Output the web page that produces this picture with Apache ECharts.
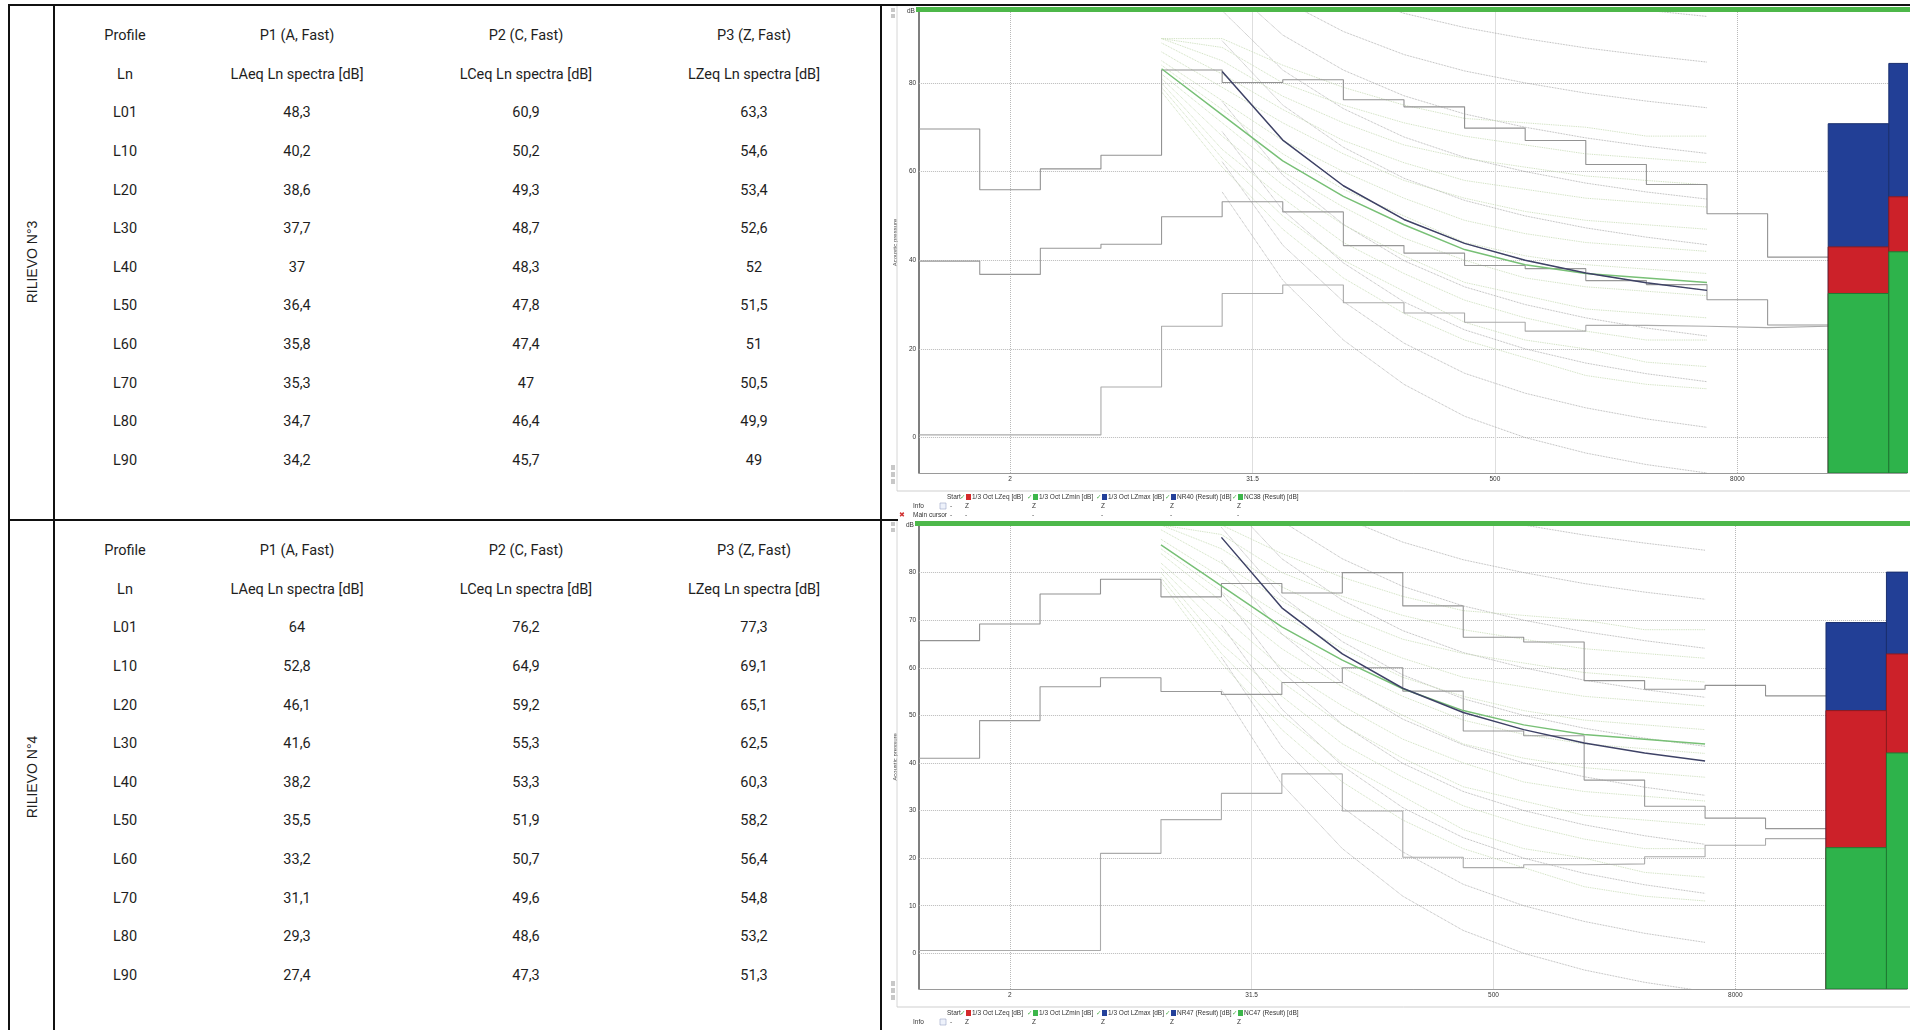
<!DOCTYPE html>
<html>
<head>
<meta charset="utf-8">
<script src="https://cdn.jsdelivr.net/npm/echarts@6/dist/echarts.min.js"></script>
<style>
  html, body { margin: 0; padding: 0; background: #fff; }
  #page { position: relative; width: 1910px; height: 1030px; overflow: hidden; color: #1e1e1e; }
  .cell { position: absolute; transform: translate(-50%, -50%); white-space: nowrap;
          font-family: Roboto, sans-serif; font-size: 14.5px; }
  .rot { position: absolute; transform: translate(-50%, -50%) rotate(-90deg); white-space: nowrap;
         font-family: "Liberation Sans", sans-serif; font-size: 14px; }
  .rule { position: absolute; background: #111; z-index: 3; }
  #spectra { position: absolute; left: 884px; top: 0; width: 1026px; height: 1030px; z-index: 1; }
</style>
</head>
<body>
<div id="page">
  <div id="table"></div>
  <div id="spectra"></div>
</div>
<script>
// ---- table data ----
const profiles = ['P1 (A, Fast)', 'P2 (C, Fast)', 'P3 (Z, Fast)'];
const spectraHeads = ['LAeq Ln spectra [dB]', 'LCeq Ln spectra [dB]', 'LZeq Ln spectra [dB]'];
const lnLabels = ['L01', 'L10', 'L20', 'L30', 'L40', 'L50', 'L60', 'L70', 'L80', 'L90'];
const r3A = [48.3, 40.2, 38.6, 37.7, 37, 36.4, 35.8, 35.3, 34.7, 34.2];
const r3C = [60.9, 50.2, 49.3, 48.7, 48.3, 47.8, 47.4, 47, 46.4, 45.7];
const r3Z = [63.3, 54.6, 53.4, 52.6, 52, 51.5, 51, 50.5, 49.9, 49];
const r4A = [64, 52.8, 46.1, 41.6, 38.2, 35.5, 33.2, 31.1, 29.3, 27.4];
const r4C = [76.2, 64.9, 59.2, 55.3, 53.3, 51.9, 50.7, 49.6, 48.6, 47.3];
const r4Z = [77.3, 69.1, 65.1, 62.5, 60.3, 58.2, 56.4, 54.8, 53.2, 51.3];
const sectionLabels = ['RILIEVO N°3', 'RILIEVO N°4'];

// ---- spectra data (octave bands, dB) ----
const bandsHz = ['1', '2', '4', '8', '16', '31.5', '63', '125', '250', '500', '1000', '2000', '4000', '8000', '16000'];
const xTickBands = ['2', '31.5', '500', '8000'];
const overallNames = ['A', 'Z'];

const s3Max = [69.6, 55.9, 60.6, 63.7, 82.9, 80.1, 80.7, 76.2, 74.6, 69.8, 67.0, 61.6, 57.1, 50.5, 40.7];
const s3Eq  = [39.8, 36.8, 42.7, 43.6, 49.8, 53.2, 50.9, 43.3, 41.6, 38.8, 38.1, 35.4, 34.5, 31.1, 25.4];
const s3Min = [0.6, 0.6, 0.6, 11.4, 25.1, 32.5, 34.4, 30.4, 28.1, 26.0, 24.0, 25.3, 25.1, 24.8, 25.1];
const t3Max = [70.8, 84.4];
const t3Eq  = [43.0, 54.3];
const t3Min = [32.5, 41.9];
const nr40 = [82.6, 67.1, 56.8, 49.2, 43.8, 40, 37.1, 34.9, 33.2];
const nc38 = [83.2, 72.8, 62.4, 54.4, 48, 42.4, 39, 37, 36, 35];

const s4Max = [65.7, 69.2, 75.5, 78.6, 74.9, 77.7, 75.7, 80.0, 73.0, 66.4, 65.4, 57.3, 55.5, 56.3, 54.1];
const s4Eq  = [41.0, 48.9, 56.0, 57.9, 55.0, 54.4, 56.9, 60.0, 55.1, 46.7, 45.7, 36.4, 30.9, 28.4, 26.2];
const s4Min = [0.6, 0.6, 0.6, 21.0, 28.1, 33.6, 37.7, 29.9, 20.2, 18.0, 18.6, 18.8, 20.3, 22.7, 24.1];
const t4Max = [69.5, 80.1];
const t4Eq  = [51.0, 62.9];
const t4Min = [22.2, 42.1];
const nr47 = [87.4, 72.6, 62.9, 55.7, 50.6, 47, 44.2, 42.1, 40.4];
const nc47 = [85.8, 77.2, 68.6, 61.6, 55.6, 51, 48, 46, 45, 44];

// background reference families (NR 31.5..8k, NC 16..8k)
const nrCurves = [
  [55.4, 35.5, 22.0, 12.0, 4.8, 0, -3.5, -6.1, -8.0],
  [62.2, 43.4, 30.7, 21.3, 14.5, 10, 6.7, 4.2, 2.3],
  [69.0, 51.3, 39.4, 30.6, 24.3, 20, 16.8, 14.4, 12.6],
  [75.8, 59.2, 48.1, 39.9, 34.0, 30, 27.0, 24.7, 22.9],
  [82.6, 67.1, 56.8, 49.2, 43.8, 40, 37.1, 34.9, 33.2],
  [89.5, 75.0, 65.5, 58.5, 53.5, 50, 47.3, 45.2, 43.5],
  [96.3, 82.9, 74.2, 67.8, 63.2, 60, 57.4, 55.4, 53.8],
  [103.1, 90.8, 82.9, 77.1, 73.0, 70, 67.6, 65.7, 64.1],
  [109.9, 98.7, 91.6, 86.4, 82.7, 80, 77.7, 75.9, 74.4],
  [116.7, 106.6, 100.3, 95.7, 92.5, 90, 87.9, 86.2, 84.7],
  [123.5, 114.5, 109.0, 105.0, 102.2, 100, 98.0, 96.4, 95.0]
];
const ncCurves = [
  [78, 61, 47, 36, 28, 22, 18, 14, 12, 11],
  [79, 63, 50, 40, 33, 26, 22, 20, 17, 16],
  [80, 65, 54, 44, 37, 31, 27, 24, 22, 22],
  [81, 68, 57, 48, 41, 35, 32, 29, 28, 27],
  [82, 71, 60, 52, 45, 40, 36, 34, 33, 32],
  [84, 74, 64, 56, 50, 44, 41, 39, 38, 37],
  [85, 76, 67, 60, 54, 49, 46, 44, 43, 42],
  [87, 79, 71, 64, 58, 54, 51, 49, 48, 47],
  [89, 82, 74, 67, 62, 58, 56, 54, 53, 52],
  [90, 85, 77, 71, 66, 63, 61, 59, 58, 57],
  [90, 88, 80, 75, 71, 68, 66, 64, 63, 62],
  [90, 90, 84, 79, 75, 72, 71, 70, 68, 68]
];
const legend3 = ['1/3 Oct LZeq [dB]', '1/3 Oct LZmin [dB]', '1/3 Oct LZmax [dB]', 'NR40 (Result) [dB]', 'NC38 (Result) [dB]'];
const legend4 = ['1/3 Oct LZeq [dB]', '1/3 Oct LZmin [dB]', '1/3 Oct LZmax [dB]', 'NR47 (Result) [dB]', 'NC47 (Result) [dB]'];
const yTicks3 = [0, 20, 40, 60, 80];
const yTicks4 = [0, 10, 20, 30, 40, 50, 60, 70, 80];

// ---- table ----
const tbl = document.getElementById('table');
const colX = [125, 297, 526, 754];
const sectionY = [35, 550];
const rowStep = 38.64;
const labelY = [262, 777];
function put(text, x, y, cls) {
  const d = document.createElement('div');
  d.className = cls; d.textContent = text;
  d.style.left = x + 'px'; d.style.top = y + 'px';
  tbl.appendChild(d);
}
function rule(x, y, w, h) {
  const d = document.createElement('div');
  d.className = 'rule';
  Object.assign(d.style, { left: x + 'px', top: y + 'px', width: w + 'px', height: h + 'px' });
  tbl.appendChild(d);
}
const fmt = v => String(v).replace('.', ',');
[[r3A, r3C, r3Z], [r4A, r4C, r4Z]].forEach((cols, si) => {
  const y0 = sectionY[si];
  put('Profile', colX[0], y0, 'cell');
  profiles.forEach((p, j) => put(p, colX[j + 1], y0, 'cell'));
  put('Ln', colX[0], y0 + rowStep, 'cell');
  spectraHeads.forEach((h, j) => put(h, colX[j + 1], y0 + rowStep, 'cell'));
  lnLabels.forEach((ln, i) => {
    const y = y0 + (i + 2) * rowStep;
    put(ln, colX[0], y, 'cell');
    cols.forEach((c, j) => put(fmt(c[i]), colX[j + 1], y, 'cell'));
  });
  put(sectionLabels[si], 31.5, labelY[si], 'rot');
});
rule(8, 4, 1902, 2);
rule(8, 4, 2, 1026);
rule(53, 4, 2, 1026);
rule(880, 4, 2, 1026);
rule(8, 519, 890, 2);

// ---- spectra ----
const FONT = 'Liberation Sans';
const stepData = vals => {
  const pts = vals.map((v, k) => [k - 0.5, v]);
  pts.push([vals.length - 0.5, vals[vals.length - 1]]);
  return pts;
};
const edgeData = (vals, firstBand) => vals.map((v, i) => [firstBand + i - 0.5, v]);
const nrFirst = bandsHz.indexOf('31.5');
const ncFirst = bandsHz.indexOf('16');
const overallPos = overallNames.map((n, j) => bandsHz.length + j);

const panels = [
  { left: 32, top: 12, width: 994, height: 461, xMax: 15.8, yMin: -8, yMax: 96, yStep: 4, yTicks: yTicks3,
    max: s3Max, eq: s3Eq, min: s3Min, tMax: t3Max, tEq: t3Eq, tMin: t3Min, nr: nr40, nc: nc38,
    legend: legend3, barY: 7, rowY: 497 },
  { left: 31, top: 525, width: 995, height: 464, xMax: 15.84, yMin: -7.5, yMax: 90, yStep: 2.5, yTicks: yTicks4,
    max: s4Max, eq: s4Eq, min: s4Min, tMax: t4Max, tEq: t4Eq, tMin: t4Min, nr: nr47, nc: nc47,
    legend: legend4, barY: 521, rowY: 1013 }
];

const grids = [], xAxes = [], yAxes = [], series = [], elements = [];
const near = (a, b) => Math.abs(a - b) < 1e-3;

function txt(x, y, text, opts) {
  elements.push({ type: 'text', x, y, z: 10, style: Object.assign({
    text, fontSize: 6.5, fontFamily: FONT, fill: '#333', textVerticalAlign: 'middle' }, opts || {}) });
}
function box(x, y, w, h, fill, stroke) {
  elements.push({ type: 'rect', z: 10, shape: { x, y, width: w, height: h },
    style: { fill, stroke: stroke || null, lineWidth: 0.6 } });
}
function barSeries(i, p, vals, fill, stroke) {
  return {
    type: 'custom', xAxisIndex: i, yAxisIndex: i, z: 5, clip: true, animation: false,
    data: vals.map((v, j) => [overallPos[j], v]),
    renderItem: (params, api) => {
      const x = api.value(0), v = api.value(1);
      const a = api.coord([x - 0.5, v]);
      const b = api.coord([x + 0.5, p.yMin]);
      return { type: 'rect', shape: { x: a[0], y: a[1], width: b[0] - a[0], height: b[1] - a[1] },
               style: { fill, stroke, lineWidth: 1 } };
    }
  };
}

panels.forEach((p, i) => {
  grids.push({ left: p.left, top: p.top, width: p.width, height: p.height });
  xAxes.push({
    type: 'value', gridIndex: i, min: -0.5, max: p.xMax, interval: 0.5,
    axisLine: { show: true, onZero: false, lineStyle: { color: '#9a9a9a', width: 1 } },
    axisTick: { show: false }, splitLine: { show: false },
    axisLabel: { margin: 3, fontSize: 6.5, fontFamily: FONT, color: '#333',
      formatter: v => {
        const k = Math.round(v);
        return near(v, k) && xTickBands.includes(bandsHz[k]) ? bandsHz[k] : '';
      } }
  });
  yAxes.push({
    type: 'value', gridIndex: i, min: p.yMin, max: p.yMax, interval: p.yStep,
    name: 'Acoustic pressure', nameLocation: 'middle', nameGap: 14,
    nameTextStyle: { fontSize: 6, fontFamily: FONT, color: '#444' },
    axisLine: { show: true, onZero: false, lineStyle: { color: '#555', width: 1.5 } },
    axisTick: { show: false }, splitLine: { show: false },
    axisLabel: { margin: 3, fontSize: 6.5, fontFamily: FONT, color: '#333',
      formatter: v => p.yTicks.some(t => near(t, v)) ? String(Math.round(v)) : '' }
  });

  const common = { xAxisIndex: i, yAxisIndex: i, symbol: 'none', animation: false, silent: true };
  nrCurves.forEach(c => series.push(Object.assign({ type: 'line', z: 2,
    data: edgeData(c, nrFirst), lineStyle: { color: '#a0a0a0', width: 0.8, type: 'dotted' } }, common)));
  ncCurves.forEach(c => series.push(Object.assign({ type: 'line', z: 2,
    data: edgeData(c, ncFirst), lineStyle: { color: '#c6dab4', width: 0.9, type: 'dotted' } }, common)));

  series.push(Object.assign({ type: 'line', name: 'LZmax', step: 'end', z: 3, data: stepData(p.max),
    lineStyle: { color: '#929292', width: 1.1 },
    markLine: { silent: true, symbol: 'none', z: 1, animation: false, label: { show: false },
      data: p.yTicks.map(v => ({ yAxis: v, lineStyle: { color: '#b9b9b9', width: 1, type: 'dotted' } }))
        .concat(xTickBands.map((b, j) => ({ xAxis: bandsHz.indexOf(b),
          lineStyle: { color: j % 3 === 0 ? '#b9b9b9' : '#dedede', width: 1, type: j % 3 === 0 ? 'dotted' : 'solid' } }))) }
  }, common));
  series.push(Object.assign({ type: 'line', name: 'LZeq', step: 'end', z: 3, data: stepData(p.eq),
    lineStyle: { color: '#989898', width: 1.1 } }, common));
  series.push(Object.assign({ type: 'line', name: 'LZmin', step: 'end', z: 3, data: stepData(p.min),
    lineStyle: { color: '#ababab', width: 1.1 } }, common));
  series.push(Object.assign({ type: 'line', name: 'NC', z: 4, data: edgeData(p.nc, ncFirst),
    lineStyle: { color: '#78c076', width: 1.5 } }, common));
  series.push(Object.assign({ type: 'line', name: 'NR', z: 4, data: edgeData(p.nr, nrFirst),
    lineStyle: { color: '#3e4266', width: 1.5 } }, common));

  series.push(barSeries(i, p, p.tMax, '#223f96', '#1a2f6e'));
  series.push(barSeries(i, p, p.tEq, '#cc2129', '#8e1a1f'));
  series.push(barSeries(i, p, p.tMin, '#2eb34b', '#1f7a33'));

  // screenshot chrome
  const right = 1026;
  box(p.left, p.barY, right - p.left, 5, '#4db84a');
  txt(p.left - 9, p.barY + 4, 'dB');
  elements.push({ type: 'line', z: 10, shape: { x1: 13, y1: p.barY - 1, x2: 13, y2: p.rowY - 6 },
    style: { stroke: '#d6d6d6', lineWidth: 1 } });
  elements.push({ type: 'line', z: 10, shape: { x1: 13, y1: p.rowY - 6, x2: right, y2: p.rowY - 6 },
    style: { stroke: '#cfcfcf', lineWidth: 1 } });
  box(7, p.barY + 1, 4, 4, '#c8c8c8'); box(7, p.barY + 7, 4, 4, '#c8c8c8');
  box(7, p.rowY - 32, 4, 5, '#c8c8c8'); box(7, p.rowY - 25, 4, 5, '#c8c8c8'); box(7, p.rowY - 18, 4, 5, '#c8c8c8');

  const y = p.rowY;
  const sqX = [82, 149, 218, 287, 354];
  const sqC = ['#d42a2a', '#3cb64a', '#23409a', '#23409a', '#3cb64a'];
  txt(63, y, 'Start');
  p.legend.forEach((name, j) => {
    txt(sqX[j] - 6, y, '✓', { fill: '#4cae4c', fontSize: 6.5, fontFamily: 'DejaVu Sans' });
    box(sqX[j], y - 3, 5, 6, sqC[j]);
    txt(sqX[j] + 6, y, name);
  });
  txt(29, y + 9, 'Info');
  box(56, y + 6, 6, 6, '#eef2fb', '#9aa6c8');
  txt(66, y + 9, '-');
  sqX.forEach(x => txt(x - 1, y + 9, 'Z'));
  if (i === 0) {
    txt(15, y + 18, '✖', { fill: '#d03030', fontSize: 7, fontFamily: 'DejaVu Sans' });
    txt(29, y + 18, 'Main cursor');
    txt(66, y + 18, '-');
    sqX.forEach(x => txt(x - 1, y + 18, '-'));
  }
});

const chart = echarts.init(document.getElementById('spectra'));
chart.setOption({
  animation: false,
  grid: grids,
  xAxis: xAxes,
  yAxis: yAxes,
  series,
  graphic: { elements }
});
</script>
</body>
</html>
